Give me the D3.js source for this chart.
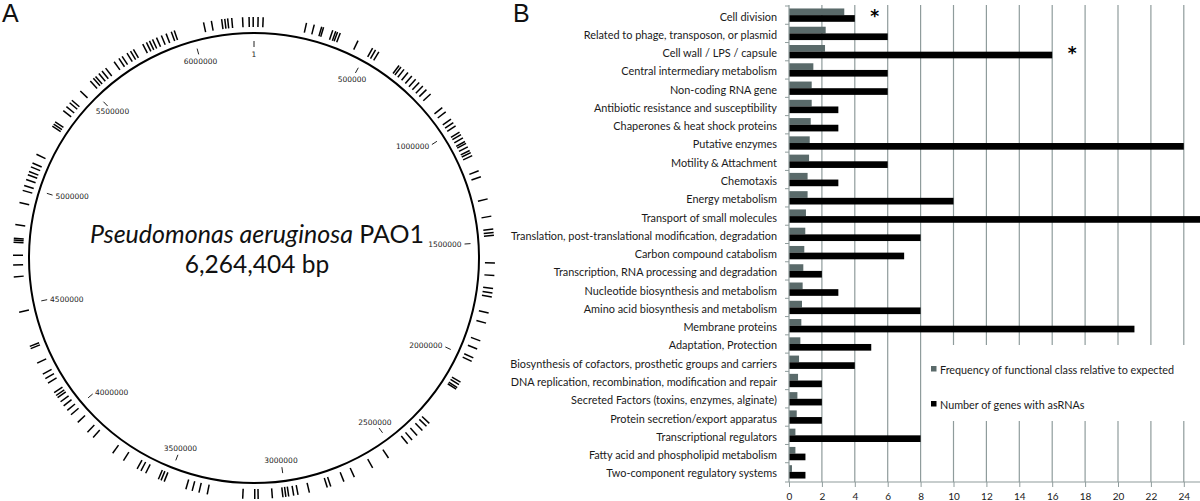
<!DOCTYPE html>
<html>
<head>
<meta charset="utf-8">
<script src="https://cdn.jsdelivr.net/npm/d3@7"></script>
<style>
html,body{margin:0;padding:0;background:#fff;}
svg{display:block;}
</style>
</head>
<body>
<svg id="chart" width="1200" height="501"></svg>
<script>
// ---------------- DATA ----------------
// Panel A: genome map
const genomeLength = 6264404;
const genomeTicks = [1, 500000, 1000000, 1500000, 2000000, 2500000, 3000000, 3500000, 4000000, 4500000, 5000000, 5500000, 6000000];
// positions (bp) of genes with asRNAs
const asRNAGenes = [
  17000, 38000, 219000, 252000, 284000, 292000, 332000, 345000, 353000, 365000, 445000,
  513000, 527000, 543000, 644000, 654000, 670000, 691000, 712000, 733000, 753000, 774000,
  795000, 820000, 894000, 917000, 954000, 971000, 988000, 1018000, 1030000, 1046000,
  1063000, 1072000, 1088000, 1105000, 1115000, 1129000, 1197000, 1223000, 1319000,
  1392000, 1446000, 1460000, 1472000, 1587000, 1639000, 1693000, 1711000, 1728000,
  1796000, 1839000, 1916000, 1952000, 1992000, 2008000, 2106000, 2118000, 2132000,
  2140000, 2320000, 2337000, 2361000, 2391000, 2419000, 2443000, 2542000, 2619000,
  2704000, 2751000, 2809000, 2824000, 2901000, 2949000, 2967000, 2988000, 3000000,
  3012000, 3056000, 3115000, 3129000, 3179000, 3327000, 3362000, 3391000, 3418000,
  3513000, 3527000, 3539000, 3597000, 3619000, 3637000, 3703000, 3757000, 3861000,
  3893000, 3950000, 3992000, 4016000, 4040000, 4061000, 4082000, 4093000, 4107000,
  4154000, 4176000, 4197000, 4248000, 4314000, 4324000, 4472000, 4620000, 4669000,
  4710000, 4764000, 4773000, 4780000, 4837000, 4930000, 4982000, 5003000, 5029000,
  5050000, 5064000, 5085000, 5102000, 5142000, 5276000, 5286000, 5297000, 5354000,
  5375000, 5396000, 5410000, 5462000, 5520000, 5537000, 5549000, 5567000, 5584000,
  5603000, 5647000, 5671000, 5687000, 5711000, 5728000, 5742000, 5786000, 5803000,
  5817000, 5831000, 5849000, 5871000, 5892000, 5915000, 5928000, 6054000, 6087000,
  6130000, 6143000, 6155000, 6172000, 6217000, 6244000, 6261000
];

// Panel B: functional classes
const categories = [
  "Cell division",
  "Related to phage, transposon, or plasmid",
  "Cell wall / LPS / capsule",
  "Central intermediary metabolism",
  "Non-coding RNA gene",
  "Antibiotic resistance and susceptibility",
  "Chaperones & heat shock proteins",
  "Putative enzymes",
  "Motility & Attachment",
  "Chemotaxis",
  "Energy metabolism",
  "Transport of small molecules",
  "Translation, post-translational modification, degradation",
  "Carbon compound catabolism",
  "Transcription, RNA processing and degradation",
  "Nucleotide biosynthesis and metabolism",
  "Amino acid biosynthesis and metabolism",
  "Membrane proteins",
  "Adaptation, Protection",
  "Biosynthesis of cofactors, prosthetic groups and carriers",
  "DNA replication, recombination, modification and repair",
  "Secreted Factors (toxins, enzymes, alginate)",
  "Protein secretion/export apparatus",
  "Transcriptional regulators",
  "Fatty acid and phospholipid metabolism",
  "Two-component regulatory systems"
];
const frequencyRelative = [3.36, 2.23, 2.19, 1.48, 1.38, 1.38, 1.32, 1.26, 1.22, 1.13, 1.13, 1.03, 0.99, 0.93, 0.87, 0.83, 0.79, 0.75, 0.69, 0.61, 0.55, 0.51, 0.47, 0.39, 0.39, 0.18];
const genesWithAsRNA = [4, 6, 16, 6, 6, 3, 3, 24, 6, 3, 10, 25, 8, 7, 2, 3, 8, 21, 5, 4, 2, 2, 2, 8, 1, 1];
const significant = ["Cell division", "Cell wall / LPS / capsule"];
const xTicks = [0, 2, 4, 6, 8, 10, 12, 14, 16, 18, 20, 22, 24];
const legendLabels = ["Frequency of functional class relative to expected", "Number of genes with asRNAs"];

// ---------------- DRAW ----------------
const svg = d3.select("#chart");
const GREY = "#5a6a6a", GRID = "#8f9c9c";

// ---- Panel A ----
svg.append("text").attr("x", 2).attr("y", 22).attr("font-family", "Liberation Sans, Arial, sans-serif")
  .attr("font-size", 25).attr("fill", "#111").text("A");

const cx = 254, cy = 258, R = 225;
const ang = d3.scaleLinear().domain([0, genomeLength]).range([0, 2 * Math.PI]);
const px = (a, r) => cx + r * Math.sin(a);
const py = (a, r) => cy - r * Math.cos(a);

const gA = svg.append("g");
gA.append("circle").attr("cx", cx).attr("cy", cy).attr("r", R)
  .attr("fill", "none").attr("stroke", "#000").attr("stroke-width", 2);

gA.selectAll("line.feat").data(asRNAGenes).join("line").attr("class", "feat")
  .attr("x1", d => px(ang(d), R + 6)).attr("y1", d => py(ang(d), R + 6))
  .attr("x2", d => px(ang(d), R + 16)).attr("y2", d => py(ang(d), R + 16))
  .attr("stroke", "#000").attr("stroke-width", 1.5);

gA.selectAll("line.gt").data(genomeTicks).join("line").attr("class", "gt")
  .attr("x1", d => px(ang(d), R - 14)).attr("y1", d => py(ang(d), R - 14))
  .attr("x2", d => px(ang(d), R - 8)).attr("y2", d => py(ang(d), R - 8))
  .attr("stroke", "#222").attr("stroke-width", 1);

gA.selectAll("text.gt").data(genomeTicks).join("text").attr("class", "gt")
  .each(function (d) {
    const a = ang(d), s = Math.sin(a);
    const anchor = s > 0.72 ? "end" : (s < -0.72 ? "start" : "middle");
    const rr = anchor === "middle" ? R - 21 : R - 17;
    d3.select(this).attr("x", px(a, rr)).attr("y", py(a, rr)).attr("text-anchor", anchor);
  })
  .attr("dominant-baseline", "central")
  .attr("font-family", "DejaVu Sans, sans-serif").attr("font-size", 7.5).attr("fill", "#222")
  .text(d => d3.format("d")(d));

const title = gA.append("text").attr("x", cx + 3).attr("y", 243).attr("text-anchor", "middle")
  .attr("font-family", "Lato, 'Open Sans', sans-serif").attr("font-size", 25).attr("fill", "#111");
title.append("tspan").attr("font-style", "italic").text("Pseudomonas aeruginosa");
title.append("tspan").text(" PAO1");
gA.append("text").attr("x", cx + 3).attr("y", 273).attr("text-anchor", "middle")
  .attr("font-family", "Lato, 'Open Sans', sans-serif").attr("font-size", 24.5).attr("fill", "#111")
  .text(d3.format(",")(genomeLength) + " bp");

// ---- Panel B ----
svg.append("text").attr("x", 513).attr("y", 22).attr("font-family", "Liberation Sans, Arial, sans-serif")
  .attr("font-size", 25).attr("fill", "#111").text("B");

const x = d3.scaleLinear().domain([0, 24]).range([789, 1183.8]);
const y = d3.scaleBand().domain(categories).range([6, 481]).paddingInner(0.27).paddingOuter(0.135);
const plotTop = 5, plotBottom = 482;
const gB = svg.append("g");

// gridlines
gB.selectAll("line.grid").data(xTicks.filter(t => t > 0)).join("line").attr("class", "grid")
  .attr("x1", d => x(d)).attr("x2", d => x(d)).attr("y1", plotTop).attr("y2", plotBottom)
  .attr("stroke", GRID).attr("stroke-width", 1.2);

// legend box (covers gridlines)
const lg = gB.append("g");
lg.append("rect").attr("x", 926).attr("y", 345).attr("width", 272).attr("height", 76).attr("fill", "#fff");
legendLabels.forEach((t, i) => {
  const yy = 369 + i * 35;
  lg.append("rect").attr("x", 931).attr("y", yy - 3).attr("width", 5.5).attr("height", 5.5)
    .attr("fill", i === 0 ? GREY : "#000");
  lg.append("text").attr("x", 940).attr("y", yy).attr("dominant-baseline", "central")
    .attr("font-family", "Lato, sans-serif").attr("font-size", 10.8).attr("fill", "#1a1a1a").text(t);
});

// bars
const bh = y.bandwidth() / 2;
gB.selectAll("rect.freq").data(categories).join("rect").attr("class", "freq")
  .attr("x", x(0)).attr("y", d => y(d)).attr("height", bh)
  .attr("width", (d, i) => x(frequencyRelative[i]) - x(0)).attr("fill", GREY);
gB.selectAll("rect.num").data(categories).join("rect").attr("class", "num")
  .attr("x", x(0)).attr("y", d => y(d) + bh).attr("height", bh)
  .attr("width", (d, i) => x(genesWithAsRNA[i]) - x(0)).attr("fill", "#000");

// axes
const yAxis = d3.axisLeft(y).tickSize(0).tickPadding(12);
const ga = gB.append("g").attr("transform", `translate(${x(0)},0)`).call(yAxis);
ga.select(".domain").remove();
ga.selectAll("text").attr("font-family", "Lato, sans-serif").attr("font-size", 10.9).attr("fill", "#1a1a1a")
  .attr("dy", "0.5em");
// left axis line + boundary ticks
gB.append("line").attr("x1", x(0)).attr("x2", x(0)).attr("y1", plotTop).attr("y2", plotBottom)
  .attr("stroke", GRID).attr("stroke-width", 1.2);
const bounds = categories.map(c => y(c) - y.step() * y.paddingInner() / 2).concat([plotBottom]);
gB.selectAll("line.bt").data(bounds).join("line").attr("class", "bt")
  .attr("x1", x(0) - 4).attr("x2", x(0)).attr("y1", d => d).attr("y2", d => d)
  .attr("stroke", GRID).attr("stroke-width", 1);

const xAxis = d3.axisBottom(x).tickValues(xTicks).tickSize(5).tickPadding(6);
const gx = gB.append("g").attr("transform", `translate(0,${plotBottom})`).call(xAxis);
gx.select(".domain").attr("d", `M${x(0)},0H1200`).attr("stroke", GRID).attr("stroke-width", 1.2);
gx.selectAll(".tick line").attr("stroke", GRID);
gx.selectAll("text").attr("font-family", "Lato, sans-serif").attr("font-size", 10).attr("fill", "#1a1a1a");

// significance asterisks
significant.forEach(c => {
  const i = categories.indexOf(c);
  gB.append("text").attr("x", x(genesWithAsRNA[i]) + 20).attr("y", y(c) + 14)
    .attr("text-anchor", "middle").attr("font-family", "DejaVu Sans, sans-serif")
    .attr("font-weight", "bold").attr("font-size", 17).attr("fill", "#000").text("*");
});
</script>
</body>
</html>
